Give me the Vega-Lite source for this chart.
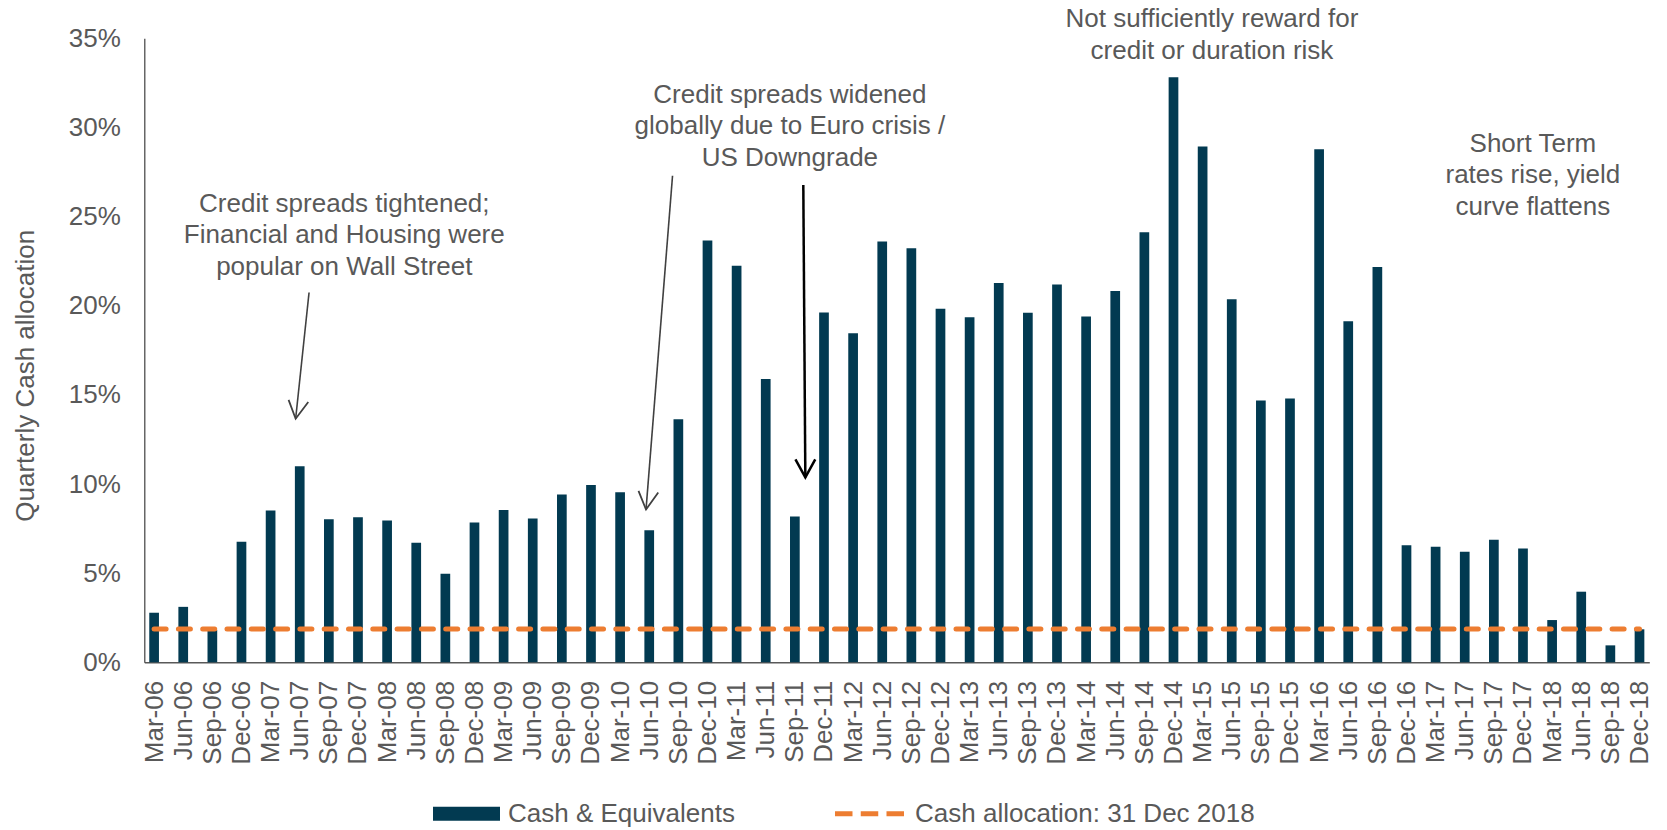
{
  "$schema": "https://vega.github.io/schema/vega-lite/v6.json",
  "autosize": "none",
  "width": 1505,
  "height": 624,
  "padding": {"left": 144.3, "top": 38.3, "right": 17.7, "bottom": 167.7},
  "background": "white",
  "config": {
    "view": {"stroke": null},
    "font": "Liberation Sans",
    "axis": {"labelFont": "Liberation Sans", "titleFont": "Liberation Sans", "labelColor": "#595959", "titleColor": "#595959"},
    "legend": {
      "orient": "none", "direction": "horizontal", "title": null,
      "padding": 0, "symbolSize": 4489, "labelFont": "Liberation Sans", "labelFontSize": 26,
      "labelColor": "#595959", "labelLimit": 0, "symbolOpacity": 1
    }
  },
  "datasets": {
    "main": [
      {"i": 0, "q": "Mar-06", "cash": 2.78, "alloc": 1.87},
      {"i": 1, "q": "Jun-06", "cash": 3.11, "alloc": 1.87},
      {"i": 2, "q": "Sep-06", "cash": 1.82, "alloc": 1.87},
      {"i": 3, "q": "Dec-06", "cash": 6.76, "alloc": 1.87},
      {"i": 4, "q": "Mar-07", "cash": 8.51, "alloc": 1.87},
      {"i": 5, "q": "Jun-07", "cash": 11.0, "alloc": 1.87},
      {"i": 6, "q": "Sep-07", "cash": 8.02, "alloc": 1.87},
      {"i": 7, "q": "Dec-07", "cash": 8.13, "alloc": 1.87},
      {"i": 8, "q": "Mar-08", "cash": 7.95, "alloc": 1.87},
      {"i": 9, "q": "Jun-08", "cash": 6.71, "alloc": 1.87},
      {"i": 10, "q": "Sep-08", "cash": 4.96, "alloc": 1.87},
      {"i": 11, "q": "Dec-08", "cash": 7.84, "alloc": 1.87},
      {"i": 12, "q": "Mar-09", "cash": 8.54, "alloc": 1.87},
      {"i": 13, "q": "Jun-09", "cash": 8.07, "alloc": 1.87},
      {"i": 14, "q": "Sep-09", "cash": 9.41, "alloc": 1.87},
      {"i": 15, "q": "Dec-09", "cash": 9.95, "alloc": 1.87},
      {"i": 16, "q": "Mar-10", "cash": 9.54, "alloc": 1.87},
      {"i": 17, "q": "Jun-10", "cash": 7.41, "alloc": 1.87},
      {"i": 18, "q": "Sep-10", "cash": 13.63, "alloc": 1.87},
      {"i": 19, "q": "Dec-10", "cash": 23.66, "alloc": 1.87},
      {"i": 20, "q": "Mar-11", "cash": 22.24, "alloc": 1.87},
      {"i": 21, "q": "Jun-11", "cash": 15.89, "alloc": 1.87},
      {"i": 22, "q": "Sep-11", "cash": 8.18, "alloc": 1.87},
      {"i": 23, "q": "Dec-11", "cash": 19.62, "alloc": 1.87},
      {"i": 24, "q": "Mar-12", "cash": 18.46, "alloc": 1.87},
      {"i": 25, "q": "Jun-12", "cash": 23.6, "alloc": 1.87},
      {"i": 26, "q": "Sep-12", "cash": 23.22, "alloc": 1.87},
      {"i": 27, "q": "Dec-12", "cash": 19.83, "alloc": 1.87},
      {"i": 28, "q": "Mar-13", "cash": 19.36, "alloc": 1.87},
      {"i": 29, "q": "Jun-13", "cash": 21.27, "alloc": 1.87},
      {"i": 30, "q": "Sep-13", "cash": 19.6, "alloc": 1.87},
      {"i": 31, "q": "Dec-13", "cash": 21.19, "alloc": 1.87},
      {"i": 32, "q": "Mar-14", "cash": 19.39, "alloc": 1.87},
      {"i": 33, "q": "Jun-14", "cash": 20.83, "alloc": 1.87},
      {"i": 34, "q": "Sep-14", "cash": 24.12, "alloc": 1.87},
      {"i": 35, "q": "Dec-14", "cash": 32.81, "alloc": 1.87},
      {"i": 36, "q": "Mar-15", "cash": 28.93, "alloc": 1.87},
      {"i": 37, "q": "Jun-15", "cash": 20.37, "alloc": 1.87},
      {"i": 38, "q": "Sep-15", "cash": 14.68, "alloc": 1.87},
      {"i": 39, "q": "Dec-15", "cash": 14.79, "alloc": 1.87},
      {"i": 40, "q": "Mar-16", "cash": 28.77, "alloc": 1.87},
      {"i": 41, "q": "Jun-16", "cash": 19.13, "alloc": 1.87},
      {"i": 42, "q": "Sep-16", "cash": 22.17, "alloc": 1.87},
      {"i": 43, "q": "Dec-16", "cash": 6.56, "alloc": 1.87},
      {"i": 44, "q": "Mar-17", "cash": 6.48, "alloc": 1.87},
      {"i": 45, "q": "Jun-17", "cash": 6.2, "alloc": 1.87},
      {"i": 46, "q": "Sep-17", "cash": 6.87, "alloc": 1.87},
      {"i": 47, "q": "Dec-17", "cash": 6.38, "alloc": 1.87},
      {"i": 48, "q": "Mar-18", "cash": 2.37, "alloc": 1.87},
      {"i": 49, "q": "Jun-18", "cash": 3.96, "alloc": 1.87},
      {"i": 50, "q": "Sep-18", "cash": 0.95, "alloc": 1.87},
      {"i": 51, "q": "Dec-18", "cash": 1.85, "alloc": 1.87}
    ],
    "notes": [
      {"pos": 6.53, "val": 25.71, "label": "Credit spreads tightened;\nFinancial and Housing were\npopular on Wall Street"},
      {"pos": 21.83, "val": 31.83, "label": "Credit spreads widened\nglobally due to Euro crisis /\nUS Downgrade"},
      {"pos": 36.32, "val": 36.07, "label": "Not sufficiently reward for\ncredit or duration risk"},
      {"pos": 47.34, "val": 29.09, "label": "Short Term\nrates rise, yield\ncurve flattens"}
    ],
    "arrows": [
      {"id": 1, "xs": 5.32, "ys": 20.74, "xe": 4.86, "ye": 13.66},
      {"id": 2, "xs": 17.80, "ys": 27.29, "xe": 16.89, "ye": 8.57},
      {"id": 3, "xs": 22.29, "ys": 26.77, "xe": 22.36, "ye": 10.37}
    ]
  },
  "encoding": {
    "x": {
      "type": "quantitative",
      "scale": {"domain": [-0.165, 51.165], "nice": false, "zero": false},
      "axis": {
        "title": null,
        "values": [0,1,2,3,4,5,6,7,8,9,10,11,12,13,14,15,16,17,18,19,20,21,22,23,24,25,26,27,28,29,30,31,32,33,34,35,36,37,38,39,40,41,42,43,44,45,46,47,48,49,50,51],
        "labelExpr": "['Mar','Jun','Sep','Dec'][datum.value % 4] + '-' + (floor(datum.value / 4) + 6 < 10 ? '0' : '') + (floor(datum.value / 4) + 6)",
        "labelAngle": 270, "labelFontSize": 26, "labelPadding": 18, "labelOverlap": false, "labelFlush": false,
        "ticks": false, "grid": false, "domainColor": "#595959", "domainWidth": 1.5
      }
    },
    "y": {
      "type": "quantitative",
      "scale": {"domain": [0, 35], "nice": false},
      "axis": {
        "values": [0, 5, 10, 15, 20, 25, 30, 35],
        "labelExpr": "datum.value + '%'",
        "labelFontSize": 26, "labelPadding": 24, "ticks": false, "grid": false,
        "domainColor": "#404040", "domainWidth": 1.2,
        "title": "Quarterly Cash allocation", "titleFontSize": 26, "titleFontWeight": "normal",
        "titleX": -111, "titleY": 337, "titleBaseline": "alphabetic", "titleAlign": "center", "titleAngle": 270
      }
    }
  },
  "layer": [
    {
      "data": {"name": "main"},
      "mark": {"type": "bar", "width": 9.7},
      "encoding": {
        "x": {"field": "i", "type": "quantitative"},
        "y": {"field": "cash", "type": "quantitative"},
        "fill": {
          "datum": "Cash & Equivalents", "type": "nominal",
          "scale": {"domain": ["Cash & Equivalents"], "range": ["#023A51"]},
          "legend": {
            "legendX": 288.7, "legendY": 742, "labelOffset": 8,
            "symbolType": "M-1,-0.21H1V0.21H-1Z", "symbolStrokeWidth": 0
          }
        }
      }
    },
    {
      "data": {"name": "main"},
      "mark": {"type": "line", "strokeWidth": 5, "strokeDash": [12, 12.3], "strokeCap": "round"},
      "encoding": {
        "x": {"field": "i", "type": "quantitative"},
        "y": {"field": "alloc", "type": "quantitative"},
        "stroke": {
          "datum": "Cash allocation: 31 Dec 2018", "type": "nominal",
          "scale": {"domain": ["Cash allocation: 31 Dec 2018"], "range": ["#ED7D31"]},
          "legend": {
            "legendX": 689.2, "legendY": 739.5, "labelOffset": 9.5,
            "symbolType": "M-1.03,0H1.03", "symbolStrokeWidth": 5, "symbolDash": [17.5, 8.25]
          }
        }
      }
    },
    {
      "data": {"name": "notes"},
      "mark": {"type": "text", "font": "Liberation Sans", "fontSize": 26, "color": "#595959", "align": "center", "baseline": "middle", "lineBreak": "\n", "lineHeight": 31.5},
      "encoding": {
        "x": {"field": "pos", "type": "quantitative"},
        "y": {"field": "val", "type": "quantitative"},
        "text": {"field": "label"}
      }
    },
    {
      "data": {"name": "arrows"},
      "transform": [{"filter": "datum.id < 3"}],
      "mark": {"type": "rule", "color": "#404040", "strokeWidth": 1.6},
      "encoding": {
        "x": {"field": "xs", "type": "quantitative"}, "y": {"field": "ys", "type": "quantitative"},
        "x2": {"field": "xe"}, "y2": {"field": "ye"}
      }
    },
    {
      "data": {"name": "arrows"},
      "transform": [{"filter": "datum.id == 3"}],
      "mark": {"type": "rule", "color": "#000000", "strokeWidth": 2.5},
      "encoding": {
        "x": {"field": "xs", "type": "quantitative"}, "y": {"field": "ys", "type": "quantitative"},
        "x2": {"field": "xe"}, "y2": {"field": "ye"}
      }
    },
    {
      "data": {"name": "arrows"},
      "transform": [{"filter": "datum.id == 1"}],
      "mark": {"type": "point", "shape": "M-0.5,-1L0,0L0.6,-1", "filled": false, "stroke": "#404040", "strokeWidth": 1.8, "size": 1296, "angle": 6, "opacity": 1},
      "encoding": {"x": {"field": "xe", "type": "quantitative"}, "y": {"field": "ye", "type": "quantitative"}}
    },
    {
      "data": {"name": "arrows"},
      "transform": [{"filter": "datum.id == 2"}],
      "mark": {"type": "point", "shape": "M-0.5,-1L0,0L0.6,-1", "filled": false, "stroke": "#404040", "strokeWidth": 1.8, "size": 1296, "angle": 4.6, "opacity": 1},
      "encoding": {"x": {"field": "xe", "type": "quantitative"}, "y": {"field": "ye", "type": "quantitative"}}
    },
    {
      "data": {"name": "arrows"},
      "transform": [{"filter": "datum.id == 3"}],
      "mark": {"type": "point", "shape": "M-0.55,-1L0,0L0.55,-1", "filled": false, "stroke": "#000000", "strokeWidth": 2.5, "size": 1296, "angle": 0, "opacity": 1},
      "encoding": {"x": {"field": "xe", "type": "quantitative"}, "y": {"field": "ye", "type": "quantitative"}}
    }
  ]
}
